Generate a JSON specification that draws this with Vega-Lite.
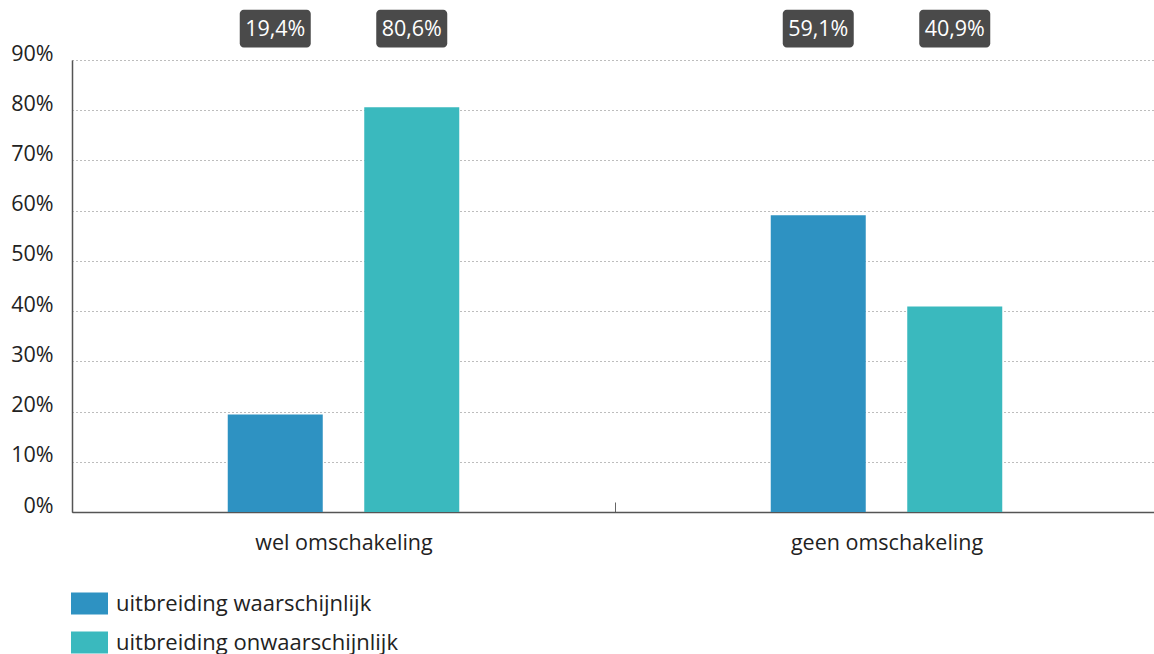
{
  "$schema": "https://vega.github.io/schema/vega-lite/v6.json",
  "width": 1082,
  "height": 452,
  "autosize": {"type": "none"},
  "padding": {"left": 72, "top": 60, "right": 0, "bottom": 142},
  "background": "white",
  "config": {
    "view": {"stroke": null},
    "font": "Open Sans"
  },
  "data": {
    "values": [
      {"group": "wel omschakeling", "series": "uitbreiding waarschijnlijk", "pct": 19.4},
      {"group": "wel omschakeling", "series": "uitbreiding onwaarschijnlijk", "pct": 80.6},
      {"group": "geen omschakeling", "series": "uitbreiding waarschijnlijk", "pct": 59.1},
      {"group": "geen omschakeling", "series": "uitbreiding onwaarschijnlijk", "pct": 40.9}
    ]
  },
  "transform": [
    {"calculate": "replace(format(datum.pct, '.1f'), '.', ',') + '%'", "as": "label"}
  ],
  "encoding": {
    "x": {
      "field": "group",
      "type": "nominal",
      "sort": ["wel omschakeling", "geen omschakeling"],
      "scale": {"paddingInner": 0, "paddingOuter": 0, "range": [0, 1086]},
      "axis": {
        "title": null,
        "labelAngle": 0,
        "labelFontSize": 21.5,
        "labelColor": "#222222",
        "labelPadding": 30,
        "labelLimit": 500,
        "tickBand": "extent",
        "tickSize": -10,
        "tickColor": "#666666",
        "domainColor": "#555555",
        "domainWidth": 1.5,
        "grid": false
      }
    },
    "xOffset": {
      "field": "series",
      "type": "nominal",
      "sort": ["uitbreiding waarschijnlijk", "uitbreiding onwaarschijnlijk"],
      "scale": {"paddingInner": 0.022, "paddingOuter": 1}
    }
  },
  "layer": [
    {
      "mark": {"type": "bar", "width": 95},
      "encoding": {
        "y": {
          "field": "pct",
          "type": "quantitative",
          "scale": {"domain": [0, 90], "nice": false},
          "axis": {
            "title": null,
            "values": [0, 10, 20, 30, 40, 50, 60, 70, 80, 90],
            "labelExpr": "datum.value + '%'",
            "labelFontSize": 21.5,
            "labelColor": "#222222",
            "labelPadding": 19,
            "labelOffset": -6,
            "ticks": false,
            "domainColor": "#555555",
            "domainWidth": 1.5,
            "grid": true,
            "gridColor": "#7a7a7a",
            "gridDash": [1, 3],
            "gridWidth": 1
          }
        },
        "color": {
          "field": "series",
          "type": "nominal",
          "sort": ["uitbreiding waarschijnlijk", "uitbreiding onwaarschijnlijk"],
          "scale": {
            "domain": ["uitbreiding waarschijnlijk", "uitbreiding onwaarschijnlijk"],
            "range": ["#2e92c2", "#3ab9be"]
          },
          "legend": {
            "title": null,
            "orient": "none",
            "legendX": -1,
            "legendY": 525,
            "direction": "vertical",
            "padding": 0,
            "symbolType": "M-1,-0.6H1V0.6H-1Z",
            "symbolSize": 1369,
            "symbolStrokeWidth": 0,
            "symbolOpacity": 1,
            "rowPadding": 9,
            "labelFontSize": 22,
            "labelColor": "#222222",
            "labelOffset": 8,
            "labelLimit": 500
          }
        }
      }
    },
    {
      "mark": {"type": "bar", "width": 71, "color": "#4a4a4a", "cornerRadius": 4},
      "encoding": {
        "y": {"datum": 92.5},
        "y2": {"datum": 100}
      }
    },
    {
      "mark": {"type": "text", "color": "white", "fontSize": 21.5, "baseline": "middle", "align": "center"},
      "encoding": {
        "y": {"datum": 95.9},
        "text": {"field": "label"}
      }
    }
  ]
}
